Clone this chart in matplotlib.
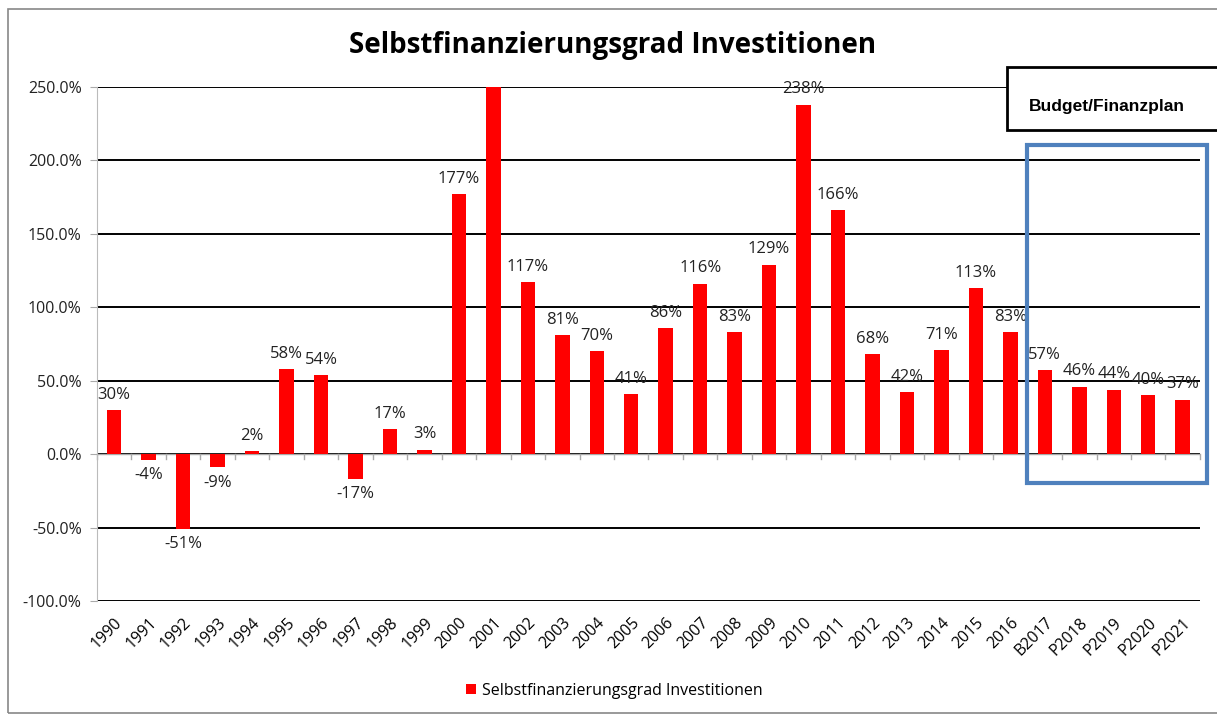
import numpy as np
import matplotlib.pyplot as plt
from matplotlib.patches import Rectangle

years = ["1990", "1991", "1992", "1993", "1994", "1995", "1996", "1997", "1998", "1999",
         "2000", "2001", "2002", "2003", "2004", "2005", "2006", "2007", "2008", "2009",
         "2010", "2011", "2012", "2013", "2014", "2015", "2016",
         "B2017", "P2018", "P2019", "P2020", "P2021"]
values = [30, -4, -51, -9, 2, 58, 54, -17, 17, 3,
          177, 300, 117, 81, 70, 41, 86, 116, 83, 129,
          238, 166, 68, 42, 71, 113, 83,
          57, 46, 44, 40, 37]
seriesName = "Selbstfinanzierungsgrad Investitionen"

plt.rcParams['font.family'] = ['Open Sans', 'DejaVu Sans']

fig = plt.figure(figsize=(12.17, 7.16), dpi=100)
ax = fig.add_axes([0.0797, 0.1606, 0.9063, 0.7179])

x = np.arange(len(years))
bars = ax.bar(x, values, width=0.42, color='#ff0000', label=seriesName, zorder=3)

ax.set_ylim(-100, 250)
ax.set_xlim(-0.5, len(years) - 0.5)
ax.set_yticks(np.arange(-100, 251, 50))
ax.set_yticklabels([f"{v:.1f}%" for v in np.arange(-100, 251, 50)], fontsize=11.5, color='#222222')
ax.grid(axis='y', color='black', linewidth=1.4, zorder=1)
ax.tick_params(axis='y', length=5, color='#aaaaaa', pad=6)

# x-Achse liegt bei 0, Beschriftung unten
for s in ['top', 'right']:
    ax.spines[s].set_visible(False)
ax.spines['bottom'].set_visible(False)
ax.spines['left'].set_color('#bbbbbb')
ax.set_xticks(x)
ax.set_xticklabels(years, rotation=45, ha='right', rotation_mode='anchor', fontsize=11.5)
ax.tick_params(axis='x', length=0, pad=10)
ax.axhline(0, color='#aaaaaa', linewidth=1, zorder=2)
for xi in np.arange(-0.5, len(years), 1):
    ax.plot([xi, xi], [0, -3.5], color='#aaaaaa', linewidth=1, zorder=2, clip_on=False)

for xi, v in zip(x, values):
    if v > 250:
        continue
    if v >= 0:
        ax.text(xi, v + 5, f"{v}%", ha='center', va='bottom', fontsize=12, color='#222222', zorder=4)
    else:
        ax.text(xi, v - 5, f"{v}%", ha='center', va='top', fontsize=12, color='#222222', zorder=4)

fig.text(0.503, 0.937, seriesName, ha='center', va='center', fontsize=20, fontweight='bold')

# Budget-Box und blauer Rahmen
fig.patches.append(Rectangle((1007 / 1217, 1 - 130 / 716), 220 / 1217, 63 / 716,
                             transform=fig.transFigure, fill=True, facecolor='white',
                             edgecolor='black', linewidth=2, zorder=5))
fig.text(1029 / 1217, 1 - 106 / 716, "Budget/Finanzplan", ha='left', va='center',
         fontsize=12.5, fontweight='bold', family=['Liberation Sans'], zorder=6)
fig.patches.append(Rectangle((1027 / 1217, 1 - 483 / 716), 180 / 1217, 338 / 716,
                             transform=fig.transFigure, fill=False,
                             edgecolor='#4f81bd', linewidth=3, zorder=5))

# äusserer Rahmen
fig.patches.append(Rectangle((8 / 1217, 3 / 716), 1300 / 1217, 704 / 716,
                             transform=fig.transFigure, fill=False,
                             edgecolor='#888888', linewidth=1.2))

fig.legend(handles=[bars], labels=[seriesName], loc='center', bbox_to_anchor=(0.505, 0.035),
           frameon=False, fontsize=11.5, handlelength=0.6, handleheight=0.6, handletextpad=0.4)

fig.savefig("out.png", dpi=100)
